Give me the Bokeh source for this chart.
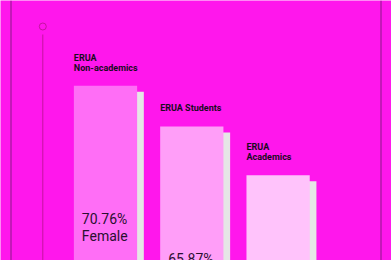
from bokeh.plotting import figure
from bokeh.models import Range1d, Span
from bokeh.core.properties import value
from bokeh.embed import file_html
from bokeh.resources import INLINE

categories = ["ERUA\nNon-academics", "ERUA Students", "ERUA\nAcademics"]
female_pct = [70.76, 65.87, 60.01]
value_labels = ["70.76%\nFemale", "65.87%\nFemale", "60.01%\nFemale"]
bar_colors = ["#FF6EF6", "#FF9EF8", "#FFC3FB"]

BG = "#FF17EC"
W, H = 391, 260
px_x = 86.3           # pixels per category step
c0 = 105.0            # pixel centre of first bar
px_y = 8.32           # pixels per percent
top_val = 70.76 + 85.3 / px_y

x_start = -c0 / px_x
x_end = (W - c0) / px_x
y_end = top_val
y_start = top_val - H / px_y

def xpx(px):
    return x_start + px / px_x

p = figure(width=W, height=H, output_backend="svg", toolbar_location=None,
           x_range=Range1d(x_start, x_end), y_range=Range1d(y_start, y_end),
           x_axis_type=None, y_axis_type=None,
           min_border=0, min_border_left=0, min_border_right=0,
           min_border_top=0, min_border_bottom=0)
p.background_fill_color = BG
p.border_fill_color = BG
p.outline_line_color = None
p.grid.visible = False

xs = list(range(len(categories)))
bw = 0.733
dx = 6.7 / px_x
dy = 6.0 / px_y

# shadows
p.quad(left=[x - bw / 2 + dx for x in xs], right=[x + bw / 2 + dx for x in xs],
       top=[v - dy for v in female_pct], bottom=0,
       fill_color="#E6E6E6", line_color=None)
# bars
p.quad(left=[x - bw / 2 for x in xs], right=[x + bw / 2 for x in xs],
       top=female_pct, bottom=0, fill_color=bar_colors, line_color=None)

# category labels
p.text(x=[x - bw / 2 for x in xs], y=female_pct, text=categories,
       text_font=value("Roboto"), text_font_style="bold", text_font_size="9px",
       text_color="#1A0A1E", text_baseline="bottom", text_align="left",
       text_line_height=1.02, y_offset=-13)

# value labels
p.text(x=[x - bw / 2 for x in xs], y=female_pct, text=value_labels,
       text_font=value("Roboto"), text_font_size="14px",
       text_color="#2A1030", text_baseline="top", text_align="left",
       text_line_height=1.05, x_offset=8, y_offset=125)

# decorative vertical lines
p.add_layout(Span(location=xpx(10.5), dimension="height", line_color="#8A1A86", line_width=1))
p.add_layout(Span(location=xpx(380.5), dimension="height", line_color="#8A1A86", line_width=1))
p.segment(x0=[xpx(42.3)], y0=[y_end - 34 / px_y], x1=[xpx(42.3)], y1=[y_start],
          line_color="#C4149F", line_width=1)
p.scatter(x=[xpx(42.3)], y=[y_end - 26 / px_y], size=7, fill_color=None,
          line_color="#C4149F", line_width=1)

open("out.html", "w").write(file_html(p, INLINE))
